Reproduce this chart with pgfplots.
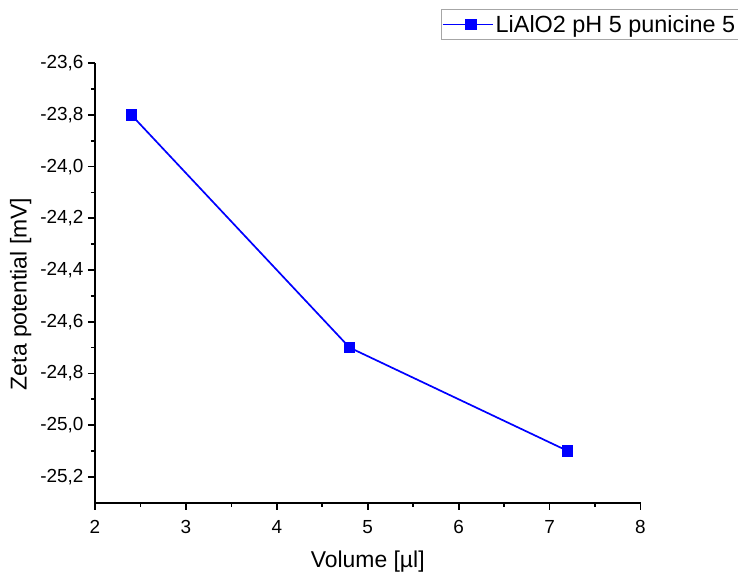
\documentclass[border=0pt]{standalone}
\usepackage{pgfplots}
\pgfplotsset{compat=1.18}
\usepackage{fontspec}
\setmainfont{Liberation Sans}
\begin{document}
\begin{tikzpicture}[x=1bp,y=1bp]
\begin{axis}[
  at={(0,0)}, anchor=south west,
  scale only axis, width=545.5bp, height=439.5bp,
  xmin=2, xmax=8, ymin=-25.3, ymax=-23.6,
  axis x line*=bottom, axis y line*=left,
  axis line style={line width=1.7bp, -},
  xtick={2,3,...,8}, ytick={-25.2,-25.0,...,-23.5},
  minor x tick num=1, minor y tick num=1,
  tick align=outside,
  major tick length=7bp, minor tick length=4bp,
  every tick/.style={line width=1.7bp, black},
  every tick label/.append style={font=\fontsize{19}{22}\selectfont},
  /pgf/number format/assume math mode=true,
  /pgf/number format/use comma,
  yticklabel style={/pgf/number format/fixed, /pgf/number format/fixed zerofill, /pgf/number format/precision=1, xshift=-1bp},
  xticklabel style={yshift=-7bp},
  xlabel={Volume [µl]}, ylabel={Zeta potential [mV]},
  label style={font=\fontsize{23}{26}\selectfont},
  xlabel style={yshift=-10bp},
  ylabel style={at={(ticklabel cs:0.475)}, yshift=2bp},
  legend style={at={(0.6334,1.123)}, anchor=north west, draw=gray!70, line width=1bp,
    font=\fontsize{23.5}{26}\selectfont, inner xsep=1bp, inner ysep=3.5bp},
  legend cell align=left,
  legend image code/.code={\draw[#1, line width=1.7bp] (0bp,0bp) -- (50bp,0bp); \draw[#1, mark repeat=2, mark phase=2] plot coordinates {(0bp,0bp) (28bp,0bp) (50bp,0bp)};},
  clip=false,
]
\addplot[blue, line width=1.7bp, mark=square*, mark size=4.8bp, mark options={solid}] coordinates {
  (2.4,-23.8) (4.8,-24.7) (7.2,-25.1)
};
\addlegendentry{LiAlO2 pH 5 punicine 5}
\end{axis}
\pgfresetboundingbox
\path[use as bounding box] (-95bp,-69.3bp) rectangle (643bp,502.7bp);
\end{tikzpicture}
\end{document}
